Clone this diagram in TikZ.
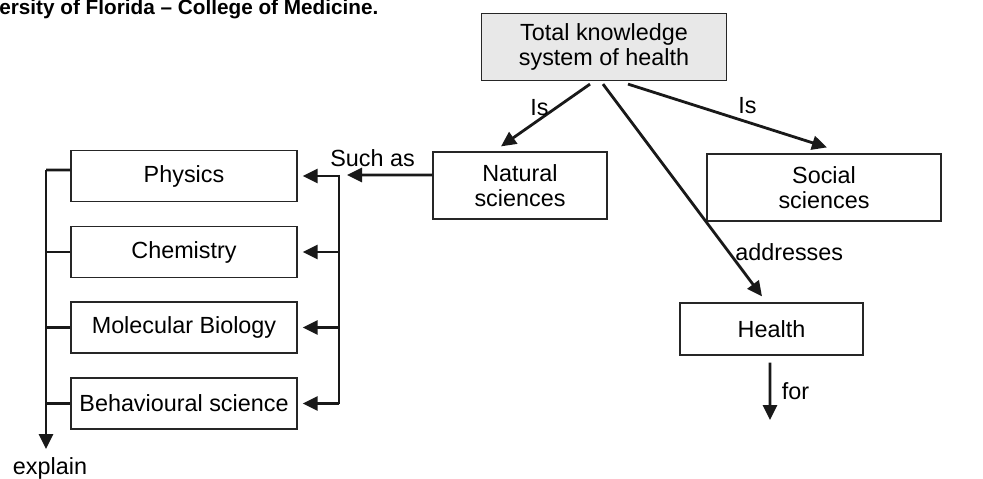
\documentclass[tikz,border=0pt]{standalone}
\usepackage{fontspec}
\setmainfont{Liberation Sans}
\usetikzlibrary{arrows.meta, positioning, calc}

\begin{document}
\begin{tikzpicture}[
        x=0.02cm, y=-0.02cm,
        concept/.style={rectangle, draw=black!85, line width=0.7pt, minimum height=1.02cm, align=center, inner sep=2pt, font=\fontsize{13.3}{14.5}\selectfont},
        root/.style={concept, fill=gray!18, minimum width=4.9cm, minimum height=1.34cm},
        field/.style={concept, minimum height=1.34cm},
        branch/.style={concept, minimum width=4.52cm},
        link/.style={-{Triangle[length=0.3cm, width=0.28cm]}, line width=1.6pt, draw=black!90},
        bar/.style={line width=1.6pt, draw=black!90},
        linktext/.style={font=\fontsize{13.3}{14.5}\selectfont, inner sep=1pt}
    ]
        \useasboundingbox (0,0) rectangle (983,479);
        \node[anchor=base west, inner sep=0pt, font=\bfseries\fontsize{11.8}{13}\selectfont] (source) at (-1,15) {ersity of Florida – College of Medicine.};
        % top level
        \node[root] (total) at (604,47) {Total knowledge\\system of health};
        \node[field, minimum width=3.48cm] (natural) at (520,185.5) {Natural\\sciences};
        \node[field, minimum width=4.68cm] (social) at (824,187.5) {Social\\sciences};
        \node[concept, minimum width=3.66cm, minimum height=1.04cm] (health) at (771.5,329) {Health};
        % examples of natural sciences
        \node[branch] (physics) at (184,176) {Physics};
        \node[branch] (chemistry) at (184,252) {Chemistry};
        \node[branch] (molbio) at (184,327.5) {Molecular Biology};
        \node[branch] (behav) at (184,403.5) {Behavioural science};
        \coordinate (bartop) at (339,175);
        \coordinate (barbot) at (339,403.5);
        \coordinate (expltop) at (46,170);
        \coordinate (explend) at (46,449);
        \coordinate (purpose) at (770,420);
        \draw[link] ([xshift=-0.28cm, yshift=-0.06cm]total.south) -- ([xshift=-0.38cm, yshift=0.1cm]natural.north) node[pos=0.37, left=3pt, linktext] {Is};
        \draw[link] ([xshift=0.48cm, yshift=-0.06cm]total.south) -- ([xshift=0.06cm, yshift=0.12cm]social.north) node[pos=0.6, above=3pt, linktext] {Is};
        \draw[link] ([xshift=-0.02cm, yshift=-0.06cm]total.south) -- ([xshift=-0.19cm, yshift=0.12cm]health.north) node[pos=0.79, right=2pt, linktext] {addresses};
        \draw[link] ([xshift=-0.03cm, yshift=-0.14cm]health.south) -- (purpose) node[midway, right=5pt, linktext] {for};
        \draw[link] ([yshift=0.21cm]natural.west) -- ([xshift=0.16cm]bartop) node[pos=0.7, above=3pt, linktext] {Such as};
        \draw[bar] (bartop) -- (barbot);
        \foreach \b in {physics, chemistry, molbio, behav}
            \draw[link] (\b.east -| bartop) -- ([xshift=0.1cm]\b.east);
        \draw[bar] ([yshift=0.12cm]physics.west) -- (expltop);
        \foreach \b in {chemistry, molbio, behav}
            \draw[bar] (\b.west) -- (\b.west -| expltop);
        \draw[link] (expltop) -- (explend);
        \node[linktext] (explain) at (50,468) {explain};
    \end{tikzpicture}
\end{document}
